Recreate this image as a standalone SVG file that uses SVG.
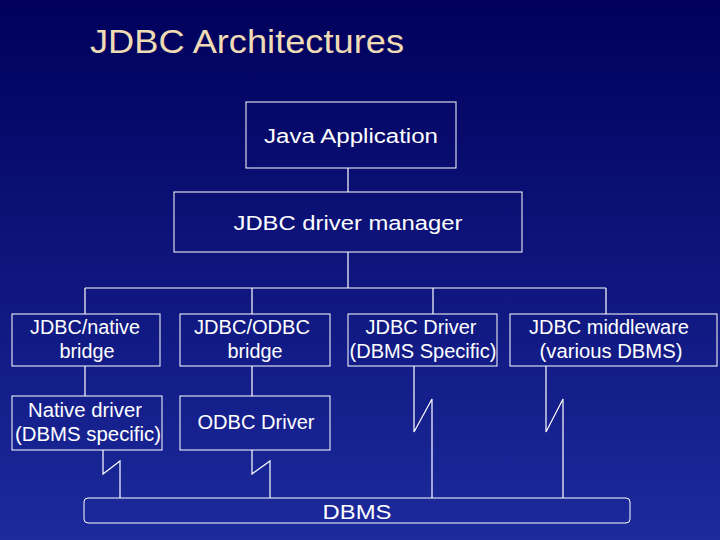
<svg xmlns="http://www.w3.org/2000/svg" width="720" height="540" viewBox="0 0 720 540">
<defs>
<linearGradient id="bg" x1="0" y1="0" x2="0" y2="1">
<stop offset="0" stop-color="#00005c"/><stop offset="1" stop-color="#1c2a9c"/>
</linearGradient>
<style>
.b{fill:none;stroke:#fff;stroke-width:1}
.l{fill:none;stroke:#fff;stroke-width:1.2}
.t{fill:#fff;font-family:"Liberation Sans",Arial,sans-serif;font-size:20px;text-anchor:middle}
</style>
</defs>
<rect width="720" height="540" fill="url(#bg)"/>
<text x="90" y="53" fill="#f0dcb4" font-family="Liberation Sans,Arial,sans-serif" font-size="34" textLength="314" lengthAdjust="spacingAndGlyphs">JDBC Architectures</text>
<g id="connectors" class="l">
<path d="M348 168V192M348 252V288M85 288H606M85 288V314M252 288V314M433 288V314M606 288V314"/>
<path d="M85 366V396M252 366V396"/>
<path d="M103 450V474L120 461V498"/>
<path d="M252 450V474L270 461V498"/>
<path d="M414 366V432L432 399V498"/>
<path d="M546 366V432L563 399V498"/>
</g>
<g id="java"><rect class="b" x="246" y="102" width="210" height="66"/><text class="t" x="351" y="143" textLength="174" lengthAdjust="spacingAndGlyphs">Java Application</text></g>
<g id="manager"><rect class="b" x="174" y="192" width="348" height="60"/><text class="t" x="348" y="230" textLength="229" lengthAdjust="spacingAndGlyphs">JDBC driver manager</text></g>
<g id="native-bridge"><rect class="b" x="12" y="314" width="148" height="52"/><text class="t" x="85" y="334" textLength="110" lengthAdjust="spacingAndGlyphs">JDBC/native</text><text class="t" x="87" y="358" textLength="55" lengthAdjust="spacingAndGlyphs">bridge</text></g>
<g id="odbc-bridge"><rect class="b" x="180" y="314" width="150" height="52"/><text class="t" x="252" y="334" textLength="116" lengthAdjust="spacingAndGlyphs">JDBC/ODBC</text><text class="t" x="255" y="358" textLength="55" lengthAdjust="spacingAndGlyphs">bridge</text></g>
<g id="jdbc-driver"><rect class="b" x="348" y="314" width="149" height="52"/><text class="t" x="421" y="334" textLength="111" lengthAdjust="spacingAndGlyphs">JDBC Driver</text><text class="t" x="423" y="358" textLength="147" lengthAdjust="spacingAndGlyphs">(DBMS Specific)</text></g>
<g id="middleware"><rect class="b" x="510" y="314" width="207" height="52"/><text class="t" x="609" y="334" textLength="160" lengthAdjust="spacingAndGlyphs">JDBC middleware</text><text class="t" x="611" y="358" textLength="143" lengthAdjust="spacingAndGlyphs">(various DBMS)</text></g>
<g id="native-driver"><rect class="b" x="12" y="396" width="150" height="54"/><text class="t" x="85" y="417" textLength="114" lengthAdjust="spacingAndGlyphs">Native driver</text><text class="t" x="88" y="441" textLength="146" lengthAdjust="spacingAndGlyphs">(DBMS specific)</text></g>
<g id="odbc-driver"><rect class="b" x="180" y="396" width="150" height="54"/><text class="t" x="256" y="429" textLength="117" lengthAdjust="spacingAndGlyphs">ODBC Driver</text></g>
<g id="dbms"><rect class="b" x="84" y="498" width="546" height="25" rx="4"/><text class="t" x="357" y="519" font-size="22" textLength="69" lengthAdjust="spacingAndGlyphs">DBMS</text></g>
</svg>
